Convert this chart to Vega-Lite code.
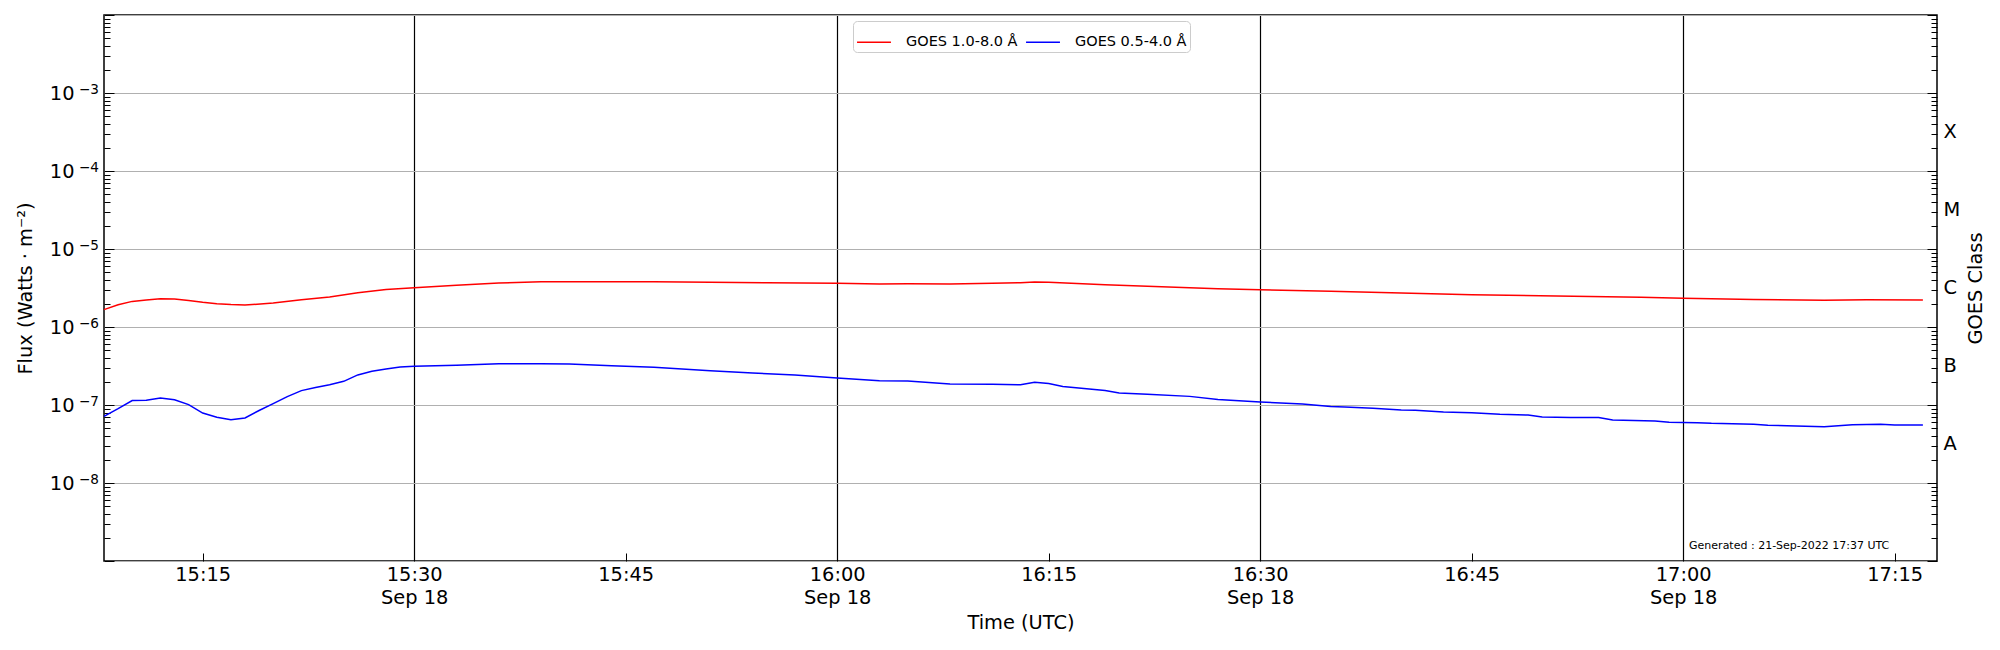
{
  "$schema": "https://vega.github.io/schema/vega-lite/v6.json",
  "width": 1833,
  "height": 546,
  "autosize": {"type": "none"},
  "padding": {"left": 104, "top": 15, "right": 63, "bottom": 89},
  "background": "white",
  "datasets": {
    "long": [
      {"time": "2022-09-18T15:08:00Z", "flux": 1.67e-6},
      {"time": "2022-09-18T15:09:00Z", "flux": 1.93e-6},
      {"time": "2022-09-18T15:10:00Z", "flux": 2.13e-6},
      {"time": "2022-09-18T15:11:00Z", "flux": 2.22e-6},
      {"time": "2022-09-18T15:12:00Z", "flux": 2.31e-6},
      {"time": "2022-09-18T15:13:00Z", "flux": 2.29e-6},
      {"time": "2022-09-18T15:14:00Z", "flux": 2.18e-6},
      {"time": "2022-09-18T15:15:00Z", "flux": 2.07e-6},
      {"time": "2022-09-18T15:16:00Z", "flux": 1.99e-6},
      {"time": "2022-09-18T15:17:00Z", "flux": 1.94e-6},
      {"time": "2022-09-18T15:18:00Z", "flux": 1.91e-6},
      {"time": "2022-09-18T15:20:00Z", "flux": 2.03e-6},
      {"time": "2022-09-18T15:22:00Z", "flux": 2.24e-6},
      {"time": "2022-09-18T15:24:00Z", "flux": 2.42e-6},
      {"time": "2022-09-18T15:26:00Z", "flux": 2.75e-6},
      {"time": "2022-09-18T15:28:00Z", "flux": 3.02e-6},
      {"time": "2022-09-18T15:30:00Z", "flux": 3.19e-6},
      {"time": "2022-09-18T15:33:00Z", "flux": 3.42e-6},
      {"time": "2022-09-18T15:36:00Z", "flux": 3.66e-6},
      {"time": "2022-09-18T15:39:00Z", "flux": 3.81e-6},
      {"time": "2022-09-18T15:43:00Z", "flux": 3.81e-6},
      {"time": "2022-09-18T15:47:00Z", "flux": 3.80e-6},
      {"time": "2022-09-18T15:51:00Z", "flux": 3.76e-6},
      {"time": "2022-09-18T15:55:00Z", "flux": 3.70e-6},
      {"time": "2022-09-18T16:00:00Z", "flux": 3.63e-6},
      {"time": "2022-09-18T16:03:00Z", "flux": 3.56e-6},
      {"time": "2022-09-18T16:05:00Z", "flux": 3.59e-6},
      {"time": "2022-09-18T16:08:00Z", "flux": 3.56e-6},
      {"time": "2022-09-18T16:11:00Z", "flux": 3.63e-6},
      {"time": "2022-09-18T16:13:00Z", "flux": 3.70e-6},
      {"time": "2022-09-18T16:14:00Z", "flux": 3.78e-6},
      {"time": "2022-09-18T16:15:00Z", "flux": 3.74e-6},
      {"time": "2022-09-18T16:19:00Z", "flux": 3.49e-6},
      {"time": "2022-09-18T16:22:00Z", "flux": 3.32e-6},
      {"time": "2022-09-18T16:25:00Z", "flux": 3.19e-6},
      {"time": "2022-09-18T16:27:00Z", "flux": 3.10e-6},
      {"time": "2022-09-18T16:30:00Z", "flux": 3.01e-6},
      {"time": "2022-09-18T16:35:00Z", "flux": 2.87e-6},
      {"time": "2022-09-18T16:40:00Z", "flux": 2.73e-6},
      {"time": "2022-09-18T16:45:00Z", "flux": 2.60e-6},
      {"time": "2022-09-18T16:51:00Z", "flux": 2.50e-6},
      {"time": "2022-09-18T16:57:00Z", "flux": 2.40e-6},
      {"time": "2022-09-18T17:00:00Z", "flux": 2.33e-6},
      {"time": "2022-09-18T17:05:00Z", "flux": 2.26e-6},
      {"time": "2022-09-18T17:10:00Z", "flux": 2.20e-6},
      {"time": "2022-09-18T17:13:00Z", "flux": 2.24e-6},
      {"time": "2022-09-18T17:17:00Z", "flux": 2.22e-6}
    ],
    "short": [
      {"time": "2022-09-18T15:08:00Z", "flux": 7.16e-8},
      {"time": "2022-09-18T15:09:00Z", "flux": 8.97e-8},
      {"time": "2022-09-18T15:10:00Z", "flux": 1.14e-7},
      {"time": "2022-09-18T15:11:00Z", "flux": 1.15e-7},
      {"time": "2022-09-18T15:12:00Z", "flux": 1.23e-7},
      {"time": "2022-09-18T15:13:00Z", "flux": 1.17e-7},
      {"time": "2022-09-18T15:14:00Z", "flux": 1.01e-7},
      {"time": "2022-09-18T15:15:00Z", "flux": 7.88e-8},
      {"time": "2022-09-18T15:16:00Z", "flux": 6.95e-8},
      {"time": "2022-09-18T15:17:00Z", "flux": 6.49e-8},
      {"time": "2022-09-18T15:18:00Z", "flux": 6.81e-8},
      {"time": "2022-09-18T15:19:00Z", "flux": 8.5e-8},
      {"time": "2022-09-18T15:20:00Z", "flux": 1.04e-7},
      {"time": "2022-09-18T15:21:00Z", "flux": 1.28e-7},
      {"time": "2022-09-18T15:22:00Z", "flux": 1.53e-7},
      {"time": "2022-09-18T15:23:00Z", "flux": 1.68e-7},
      {"time": "2022-09-18T15:24:00Z", "flux": 1.82e-7},
      {"time": "2022-09-18T15:25:00Z", "flux": 2.01e-7},
      {"time": "2022-09-18T15:26:00Z", "flux": 2.43e-7},
      {"time": "2022-09-18T15:27:00Z", "flux": 2.70e-7},
      {"time": "2022-09-18T15:28:00Z", "flux": 2.90e-7},
      {"time": "2022-09-18T15:29:00Z", "flux": 3.07e-7},
      {"time": "2022-09-18T15:30:00Z", "flux": 3.13e-7},
      {"time": "2022-09-18T15:33:00Z", "flux": 3.23e-7},
      {"time": "2022-09-18T15:36:00Z", "flux": 3.39e-7},
      {"time": "2022-09-18T15:39:00Z", "flux": 3.39e-7},
      {"time": "2022-09-18T15:41:00Z", "flux": 3.36e-7},
      {"time": "2022-09-18T15:44:00Z", "flux": 3.19e-7},
      {"time": "2022-09-18T15:47:00Z", "flux": 3.04e-7},
      {"time": "2022-09-18T15:51:00Z", "flux": 2.75e-7},
      {"time": "2022-09-18T15:54:00Z", "flux": 2.57e-7},
      {"time": "2022-09-18T15:57:00Z", "flux": 2.42e-7},
      {"time": "2022-09-18T16:00:00Z", "flux": 2.22e-7},
      {"time": "2022-09-18T16:03:00Z", "flux": 2.05e-7},
      {"time": "2022-09-18T16:05:00Z", "flux": 2.03e-7},
      {"time": "2022-09-18T16:08:00Z", "flux": 1.86e-7},
      {"time": "2022-09-18T16:11:00Z", "flux": 1.84e-7},
      {"time": "2022-09-18T16:13:00Z", "flux": 1.82e-7},
      {"time": "2022-09-18T16:14:00Z", "flux": 1.95e-7},
      {"time": "2022-09-18T16:15:00Z", "flux": 1.88e-7},
      {"time": "2022-09-18T16:16:00Z", "flux": 1.73e-7},
      {"time": "2022-09-18T16:19:00Z", "flux": 1.53e-7},
      {"time": "2022-09-18T16:20:00Z", "flux": 1.43e-7},
      {"time": "2022-09-18T16:22:00Z", "flux": 1.37e-7},
      {"time": "2022-09-18T16:25:00Z", "flux": 1.29e-7},
      {"time": "2022-09-18T16:27:00Z", "flux": 1.18e-7},
      {"time": "2022-09-18T16:30:00Z", "flux": 1.09e-7},
      {"time": "2022-09-18T16:33:00Z", "flux": 1.03e-7},
      {"time": "2022-09-18T16:35:00Z", "flux": 9.6e-8},
      {"time": "2022-09-18T16:36:00Z", "flux": 9.43e-8},
      {"time": "2022-09-18T16:38:00Z", "flux": 9.06e-8},
      {"time": "2022-09-18T16:40:00Z", "flux": 8.63e-8},
      {"time": "2022-09-18T16:41:00Z", "flux": 8.55e-8},
      {"time": "2022-09-18T16:43:00Z", "flux": 8.13e-8},
      {"time": "2022-09-18T16:45:00Z", "flux": 7.98e-8},
      {"time": "2022-09-18T16:47:00Z", "flux": 7.59e-8},
      {"time": "2022-09-18T16:49:00Z", "flux": 7.44e-8},
      {"time": "2022-09-18T16:50:00Z", "flux": 7.02e-8},
      {"time": "2022-09-18T16:52:00Z", "flux": 6.89e-8},
      {"time": "2022-09-18T16:54:00Z", "flux": 6.89e-8},
      {"time": "2022-09-18T16:55:00Z", "flux": 6.43e-8},
      {"time": "2022-09-18T16:58:00Z", "flux": 6.24e-8},
      {"time": "2022-09-18T16:59:00Z", "flux": 6.00e-8},
      {"time": "2022-09-18T17:01:00Z", "flux": 5.94e-8},
      {"time": "2022-09-18T17:02:00Z", "flux": 5.82e-8},
      {"time": "2022-09-18T17:05:00Z", "flux": 5.65e-8},
      {"time": "2022-09-18T17:06:00Z", "flux": 5.49e-8},
      {"time": "2022-09-18T17:08:00Z", "flux": 5.38e-8},
      {"time": "2022-09-18T17:10:00Z", "flux": 5.27e-8},
      {"time": "2022-09-18T17:12:00Z", "flux": 5.60e-8},
      {"time": "2022-09-18T17:14:00Z", "flux": 5.65e-8},
      {"time": "2022-09-18T17:15:00Z", "flux": 5.54e-8},
      {"time": "2022-09-18T17:17:00Z", "flux": 5.54e-8}
    ],
    "note": [
      {"time": "2022-09-18T17:00:25Z", "flux": 1.58e-9, "label": "Generated : 21-Sep-2022 17:37 UTC"}
    ]
  },
  "encoding": {
    "x": {
      "field": "time",
      "type": "temporal",
      "scale": {
        "type": "utc",
        "domain": [
          {"year": 2022, "month": 9, "date": 18, "hours": 15, "minutes": 8, "utc": true},
          {"year": 2022, "month": 9, "date": 18, "hours": 17, "minutes": 18, "utc": true}
        ]
      },
      "axis": {
        "title": "Time (UTC)",
        "values": [
          {"year": 2022, "month": 9, "date": 18, "hours": 15, "minutes": 15, "utc": true},
          {"year": 2022, "month": 9, "date": 18, "hours": 15, "minutes": 30, "utc": true},
          {"year": 2022, "month": 9, "date": 18, "hours": 15, "minutes": 45, "utc": true},
          {"year": 2022, "month": 9, "date": 18, "hours": 16, "minutes": 0, "utc": true},
          {"year": 2022, "month": 9, "date": 18, "hours": 16, "minutes": 15, "utc": true},
          {"year": 2022, "month": 9, "date": 18, "hours": 16, "minutes": 30, "utc": true},
          {"year": 2022, "month": 9, "date": 18, "hours": 16, "minutes": 45, "utc": true},
          {"year": 2022, "month": 9, "date": 18, "hours": 17, "minutes": 0, "utc": true},
          {"year": 2022, "month": 9, "date": 18, "hours": 17, "minutes": 15, "utc": true}
        ],
        "labelExpr": "utcminutes(datum.value) % 30 == 0 ? [utcFormat(datum.value, '%H:%M'), utcFormat(datum.value, '%b %d')] : utcFormat(datum.value, '%H:%M')",
        "labelLineHeight": 23,
        "labelPadding": 12,
        "labelFlush": false,
        "labelOverlap": false,
        "tickSize": -8,
        "tickColor": "black",
        "grid": true,
        "gridColor": "black",
        "gridWidth": 1.2,
        "gridOpacity": {"condition": {"test": "utcminutes(datum.value) % 30 == 0", "value": 1}, "value": 0},
        "domain": false,
        "titlePadding": 7
      }
    }
  },
  "layer": [
    {
      "data": {"name": "long"},
      "mark": {"type": "line", "strokeWidth": 1.5},
      "encoding": {
        "y": {
          "field": "flux",
          "type": "quantitative",
          "scale": {"type": "log", "domain": [1e-9, 1e-2]},
          "axis": {
            "orient": "left",
            "title": "Flux (Watts · m⁻²)",
            "values": [1e-9, 2e-9, 3e-9, 4e-9, 5e-9, 6e-9, 7e-9, 8e-9, 9e-9, 1e-8, 2e-8, 3e-8, 4e-8, 5e-8, 6e-8, 7e-8, 8e-8, 9e-8, 1e-7, 2e-7, 3e-7, 4e-7, 5e-7, 6e-7, 7e-7, 8e-7, 9e-7, 1e-6, 2e-6, 3e-6, 4e-6, 5e-6, 6e-6, 7e-6, 8e-6, 9e-6, 1e-5, 2e-5, 3e-5, 4e-5, 5e-5, 6e-5, 7e-5, 8e-5, 9e-5, 1e-4, 2e-4, 3e-4, 4e-4, 5e-4, 6e-4, 7e-4, 8e-4, 9e-4, 1e-3, 2e-3, 3e-3, 4e-3, 5e-3, 6e-3, 7e-3, 8e-3, 9e-3, 1e-2],
            "labelExpr": "abs(log(datum.value)/LN10 - round(log(datum.value)/LN10)) < 0.001 && datum.value > 5e-9 && datum.value < 5e-3 ? '10' : ''",
            "labelOverlap": false,
            "labelPadding": 40,
            "tickSize": {"condition": {"test": "abs(log(datum.value)/LN10 - round(log(datum.value)/LN10)) < 0.001", "value": -10}, "value": -6},
            "tickColor": "black",
            "grid": true,
            "gridColor": "#b0b0b0",
            "gridWidth": 1,
            "gridOpacity": {"condition": {"test": "abs(log(datum.value)/LN10 - round(log(datum.value)/LN10)) < 0.001", "value": 1}, "value": 0},
            "domain": false,
            "titlePadding": 14
          }
        },
        "color": {
          "datum": "GOES 1.0-8.0 Å",
          "type": "nominal",
          "scale": {"domain": ["GOES 1.0-8.0 Å", "GOES 0.5-4.0 Å"], "range": ["#ff0000", "#0000ff"]},
          "legend": {
            "title": null,
            "orient": "none",
            "legendX": 749,
            "legendY": 6,
            "direction": "horizontal",
            "symbolType": "stroke",
            "symbolSize": 1150,
            "symbolStrokeWidth": 1.5,
            "labelFontSize": 14.5,
            "labelOffset": 14,
            "columnPadding": 5,
            "padding": 3,
            "strokeColor": "#cccccc",
            "fillColor": "white",
            "cornerRadius": 4
          }
        }
      }
    },
    {
      "data": {"name": "short"},
      "mark": {"type": "line", "strokeWidth": 1.5},
      "encoding": {
        "y": {
          "field": "flux",
          "type": "quantitative",
          "scale": {"type": "log", "domain": [1e-9, 1e-2]},
          "axis": {
            "orient": "right",
            "title": "GOES Class",
            "titleAngle": 270,
            "values": [1e-9, 2e-9, 3e-9, 4e-9, 5e-9, 6e-9, 7e-9, 8e-9, 9e-9, 1e-8, 2e-8, 3e-8, 4e-8, 5e-8, 6e-8, 7e-8, 8e-8, 9e-8, 1e-7, 2e-7, 3e-7, 4e-7, 5e-7, 6e-7, 7e-7, 8e-7, 9e-7, 1e-6, 2e-6, 3e-6, 4e-6, 5e-6, 6e-6, 7e-6, 8e-6, 9e-6, 1e-5, 2e-5, 3e-5, 4e-5, 5e-5, 6e-5, 7e-5, 8e-5, 9e-5, 1e-4, 2e-4, 3e-4, 4e-4, 5e-4, 6e-4, 7e-4, 8e-4, 9e-4, 1e-3, 2e-3, 3e-3, 4e-3, 5e-3, 6e-3, 7e-3, 8e-3, 9e-3, 1e-2, 3.1623e-8, 3.1623e-7, 3.1623e-6, 3.1623e-5, 3.1623e-4],
            "labelExpr": "abs(abs(log(datum.value)/LN10 - round(log(datum.value)/LN10)) - 0.5) < 0.01 ? ['A','B','C','M','X'][floor(log(datum.value)/LN10) + 8] : ''",
            "labelOverlap": false,
            "labelPadding": 12,
            "tickSize": {"condition": {"test": "abs(log(datum.value)/LN10 - round(log(datum.value)/LN10)) < 0.001", "value": -10}, "value": -6},
            "tickOpacity": {"condition": {"test": "abs(abs(log(datum.value)/LN10 - round(log(datum.value)/LN10)) - 0.5) < 0.01", "value": 0}, "value": 1},
            "tickColor": "black",
            "grid": false,
            "domain": false,
            "titlePadding": 26
          }
        },
        "color": {"datum": "GOES 0.5-4.0 Å", "type": "nominal"}
      }
    },
    {
      "data": {"name": "note"},
      "mark": {"type": "text", "align": "left", "baseline": "middle", "fontSize": 11, "color": "black"},
      "encoding": {
        "y": {
          "field": "flux",
          "type": "quantitative",
          "scale": {"type": "log", "domain": [1e-9, 1e-2]},
          "axis": {
            "orient": "left",
            "title": null,
            "values": [1e-8, 1e-7, 1e-6, 1e-5, 1e-4, 1e-3],
            "labelExpr": "'−' + (-round(log(datum.value)/LN10))",
            "labelFontSize": 13.6,
            "labelOffset": -4,
            "labelPadding": 5.5,
            "labelOverlap": false,
            "ticks": false,
            "tickSize": 0,
            "grid": false,
            "domain": false
          }
        },
        "text": {"field": "label"}
      }
    }
  ],
  "resolve": {"axis": {"y": "independent"}},
  "config": {
    "font": "DejaVu Sans",
    "view": {"stroke": "black", "strokeWidth": 1.5},
    "axis": {
      "labelFont": "DejaVu Sans",
      "labelFontSize": 19.4,
      "labelColor": "black",
      "titleFont": "DejaVu Sans",
      "titleFontSize": 19.4,
      "titleFontWeight": "normal",
      "titleColor": "black"
    },
    "legend": {"labelFont": "DejaVu Sans", "labelColor": "black"}
  }
}
